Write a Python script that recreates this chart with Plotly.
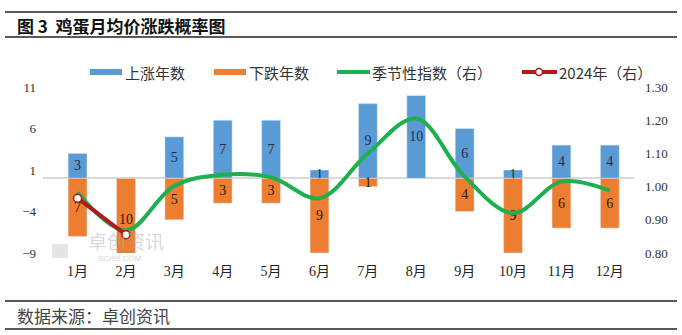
import plotly.graph_objects as go

months = ["1月", "2月", "3月", "4月", "5月", "6月", "7月", "8月", "9月", "10月", "11月", "12月"]
up_years = [3, 0, 5, 7, 7, 1, 9, 10, 6, 1, 4, 4]
down_years = [7, 10, 5, 3, 3, 9, 1, 0, 4, 9, 6, 6]
seasonal_index = [0.982, 0.868, 1.002, 1.036, 1.028, 0.965, 1.10, 1.205, 1.03, 0.92, 1.015, 0.988]
months_2024 = ["1月", "2月"]
index_2024 = [0.965, 0.855]

CJK = "Liberation Serif, Noto Sans CJK SC"
BLUE, ORANGE, GREEN, RED = "#5B9BD5", "#ED7D31", "#1DAF50", "#B01A1A"

fig = go.Figure()
fig.add_trace(go.Bar(
    x=months, y=up_years, name="上涨年数", marker_color=BLUE,
    text=[str(v) if v else "" for v in up_years], textposition="inside", textangle=0,
    insidetextanchor="middle", constraintext="none",
    textfont=dict(color="#1F2A44", size=14, family=CJK), width=0.39,
))
fig.add_trace(go.Bar(
    x=months, y=[-v for v in down_years], name="下跌年数", marker_color=ORANGE,
    text=[str(v) if v else "" for v in down_years], textposition="inside", textangle=0,
    insidetextanchor="middle", constraintext="none",
    textfont=dict(color="#2A1A10", size=14, family=CJK), width=0.39,
))
fig.add_trace(go.Scatter(
    x=months, y=seasonal_index, name="季节性指数（右）", yaxis="y2", mode="lines",
    line=dict(color=GREEN, width=4, shape="spline", smoothing=1),
))
fig.add_trace(go.Scatter(
    x=months_2024, y=index_2024, name="2024年（右）", yaxis="y2", mode="lines+markers",
    line=dict(color=RED, width=4),
    marker=dict(color="white", size=8, line=dict(color=RED, width=1.5)),
))

L, R, T, B = 43, 48, 87, 82
W, H = 682, 335
pw, ph = W - L - R, H - T - B

def px(x):
    return (x - L) / pw

def py(y):
    return (H - B - y) / ph

shapes = []
for yy in [12, 37, 301, 329]:
    shapes.append(dict(type="line", xref="paper", yref="paper", x0=px(5), x1=px(677),
                       y0=py(yy), y1=py(yy), line=dict(color="#222222", width=1.5)))

# legend (manual)
LY = 72
shapes += [
    dict(type="rect", xref="paper", yref="paper", x0=px(90), x1=px(122), y0=py(LY - 3), y1=py(LY + 3),
         fillcolor=BLUE, line=dict(width=0)),
    dict(type="rect", xref="paper", yref="paper", x0=px(214), x1=px(246), y0=py(LY - 3), y1=py(LY + 3),
         fillcolor=ORANGE, line=dict(width=0)),
    dict(type="line", xref="paper", yref="paper", x0=px(337), x1=px(370), y0=py(LY), y1=py(LY),
         line=dict(color=GREEN, width=4)),
    dict(type="line", xref="paper", yref="paper", x0=px(522), x1=px(557), y0=py(LY), y1=py(LY),
         line=dict(color=RED, width=4)),
    dict(type="circle", xref="paper", yref="paper", x0=px(535.5), x1=px(542.5), y0=py(LY - 3.5), y1=py(LY + 3.5),
         fillcolor="white", line=dict(color=RED, width=1.5)),
    # watermark logo block
    dict(type="rect", xref="paper", yref="paper", x0=px(52), x1=px(68), y0=py(258), y1=py(244),
         fillcolor="rgba(180,180,180,0.35)", line=dict(width=0)),
]

def lab(text, x, y, size, color="#333333", family="Noto Sans CJK SC", anchor="left"):
    return dict(text=text, xref="paper", yref="paper", x=px(x), y=py(y), xanchor=anchor,
                yanchor="middle", showarrow=False, font=dict(size=size, color=color, family=family))

annotations = [
    lab("<b>图 3  鸡蛋月均价涨跌概率图</b>", 15, 25, 17, "#111111"),
    lab("数据来源：卓创资讯", 15, 315, 17, "#444444"),
    lab("上涨年数", 123, LY, 15),
    lab("下跌年数", 247, LY, 15),
    lab("季节性指数（右）", 370, LY, 15),
    lab("2024年（右）", 557, LY, 15),
    lab("卓创资讯", 86, 240, 19, "rgba(170,170,170,0.45)"),
    lab("SCI99.COM", 96, 258, 8, "rgba(170,170,170,0.5)", "Liberation Sans"),
]

fig.update_layout(
    width=W, height=H, margin=dict(l=L, r=R, t=T, b=B),
    paper_bgcolor="white", plot_bgcolor="white",
    barmode="relative", bargap=0.6,
    font=dict(family=CJK, size=13, color="#333333"),
    showlegend=False,
    xaxis=dict(showgrid=False, showline=False, ticks="outside", ticklen=5, tickcolor="white",
               tickfont=dict(size=14, family=CJK, color="#222222")),
    yaxis=dict(range=[-9, 11], tickvals=[-9, -4, 1, 6, 11], ticktext=["−9", "−4", "1", "6", "11"],
               showgrid=False, zeroline=True, zerolinecolor="#D9D9D9", zerolinewidth=1.5,
               tickfont=dict(size=13, family=CJK, color="#333333"), ticklabelstandoff=6),
    yaxis2=dict(range=[0.8, 1.3], tickvals=[0.8, 0.9, 1.0, 1.1, 1.2, 1.3], tickformat=".2f",
                overlaying="y", side="right", showgrid=False, zeroline=False,
                tickfont=dict(size=13, family=CJK, color="#333333"), ticklabelstandoff=10),
    shapes=shapes, annotations=annotations,
)

fig.write_html("out.html")
